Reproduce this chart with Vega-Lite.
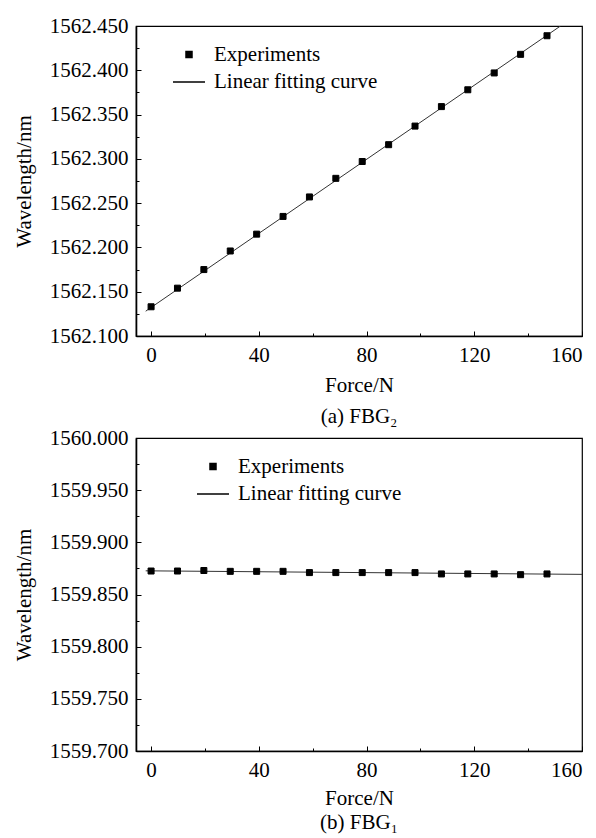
{
  "$schema": "https://vega.github.io/schema/vega-lite/v6.json",
  "padding": {"left": 12, "top": 14, "right": 0, "bottom": 0},
  "background": "white",
  "spacing": 102,
  "bounds": "flush",
  "config": {
    "font": "Liberation Serif",
    "view": {"stroke": "black", "strokeWidth": 1.2},
    "axis": {
      "grid": false,
      "labelFont": "Liberation Serif",
      "labelFontSize": 21,
      "labelColor": "black",
      "titleFont": "Liberation Serif",
      "titleFontSize": 21,
      "titleFontWeight": "normal",
      "titleColor": "black",
      "domainColor": "black",
      "domainWidth": 1.6,
      "tickColor": "black",
      "tickWidth": 1,
      "tickSize": -5,
      "labelPadding": 13
    },
    "legend": {
      "labelFont": "Liberation Serif",
      "labelFontSize": 21,
      "labelColor": "black",
      "labelOffset": 8,
      "labelLimit": 0,
      "rowPadding": -2,
      "title": null
    }
  },
  "resolve": {
    "scale": {"shape": "independent", "size": "independent"},
    "legend": {"shape": "independent", "size": "independent"}
  },
  "datasets": {
    "fbg2_pts": [
      {"force": 0, "wavelength": 1562.133, "series": "Experiments"},
      {"force": 9.8, "wavelength": 1562.154, "series": "Experiments"},
      {"force": 19.6, "wavelength": 1562.175, "series": "Experiments"},
      {"force": 29.4, "wavelength": 1562.196, "series": "Experiments"},
      {"force": 39.2, "wavelength": 1562.215, "series": "Experiments"},
      {"force": 49, "wavelength": 1562.235, "series": "Experiments"},
      {"force": 58.8, "wavelength": 1562.257, "series": "Experiments"},
      {"force": 68.6, "wavelength": 1562.278, "series": "Experiments"},
      {"force": 78.4, "wavelength": 1562.297, "series": "Experiments"},
      {"force": 88.2, "wavelength": 1562.316, "series": "Experiments"},
      {"force": 98, "wavelength": 1562.337, "series": "Experiments"},
      {"force": 107.8, "wavelength": 1562.359, "series": "Experiments"},
      {"force": 117.6, "wavelength": 1562.378, "series": "Experiments"},
      {"force": 127.4, "wavelength": 1562.397, "series": "Experiments"},
      {"force": 137.2, "wavelength": 1562.418, "series": "Experiments"},
      {"force": 147, "wavelength": 1562.439, "series": "Experiments"}
    ],
    "fbg2_fit": [
      {"force": -2, "wavelength": 1562.128},
      {"force": 152, "wavelength": 1562.45}
    ],
    "fbg1_pts": [
      {"force": 0, "wavelength": 1559.8725, "series": "Experiments"},
      {"force": 9.8, "wavelength": 1559.8725, "series": "Experiments"},
      {"force": 19.6, "wavelength": 1559.873, "series": "Experiments"},
      {"force": 29.4, "wavelength": 1559.8722, "series": "Experiments"},
      {"force": 39.2, "wavelength": 1559.8722, "series": "Experiments"},
      {"force": 49, "wavelength": 1559.8722, "series": "Experiments"},
      {"force": 58.8, "wavelength": 1559.871, "series": "Experiments"},
      {"force": 68.6, "wavelength": 1559.871, "series": "Experiments"},
      {"force": 78.4, "wavelength": 1559.871, "series": "Experiments"},
      {"force": 88.2, "wavelength": 1559.871, "series": "Experiments"},
      {"force": 98, "wavelength": 1559.871, "series": "Experiments"},
      {"force": 107.8, "wavelength": 1559.8697, "series": "Experiments"},
      {"force": 117.6, "wavelength": 1559.8697, "series": "Experiments"},
      {"force": 127.4, "wavelength": 1559.8697, "series": "Experiments"},
      {"force": 137.2, "wavelength": 1559.869, "series": "Experiments"},
      {"force": 147, "wavelength": 1559.8697, "series": "Experiments"}
    ],
    "fbg1_fit": [
      {"force": -2, "wavelength": 1559.8727},
      {"force": 160, "wavelength": 1559.8693}
    ]
  },
  "vconcat": [
    {
      "width": 446,
      "height": 310,
      "title": {"text": "(a) FBG₂", "orient": "bottom", "frame": "group", "anchor": "middle", "font": "Liberation Serif", "fontSize": 21, "fontWeight": "normal", "color": "black", "offset": 11},
      "resolve": {"axis": {"x": "independent", "y": "independent"}},
      "layer": [
        {
          "data": {"name": "fbg2_fit"},
          "mark": {"type": "line", "color": "#333", "strokeWidth": 1, "clip": true},
          "encoding": {
            "x": {"field": "force", "type": "quantitative", "scale": {"domain": [-5.6, 160], "nice": false, "zero": false},
                  "axis": {"orient": "bottom", "values": [20, 60, 100, 140], "labels": false, "domain": false, "title": null, "tickSize": -3}},
            "y": {"field": "wavelength", "type": "quantitative", "scale": {"domain": [1562.1, 1562.45], "nice": false, "zero": false},
                  "axis": {"orient": "left", "values": [1562.125, 1562.175, 1562.225, 1562.275, 1562.325, 1562.375, 1562.425], "labels": false, "domain": false, "title": null, "tickSize": -3}}
          }
        },
        {
          "data": {"name": "fbg2_pts"},
          "mark": {"type": "point", "filled": true, "opacity": 1, "color": "black", "stroke": "black", "strokeWidth": 1},
          "encoding": {
            "x": {"field": "force", "type": "quantitative",
                  "axis": {"orient": "bottom", "values": [0, 40, 80, 120, 160], "title": "Force/N", "titlePadding": 9}},
            "y": {"field": "wavelength", "type": "quantitative",
                  "axis": {"orient": "left", "values": [1562.1, 1562.15, 1562.2, 1562.25, 1562.3, 1562.35, 1562.4, 1562.45], "format": ".3f", "title": "Wavelength/nm", "titlePadding": 15}},
            "shape": {"field": "series", "type": "nominal",
                      "scale": {"domain": ["Experiments", "Linear fitting curve"], "range": ["square", "stroke"]},
                      "legend": {"orient": "none", "legendX": 36, "legendY": 18, "title": null}},
            "size": {"field": "series", "type": "nominal",
                     "scale": {"domain": ["Experiments", "Linear fitting curve"], "range": [36, 1024]},
                     "legend": {"orient": "none", "legendX": 36, "legendY": 18, "title": null}}
          }
        }
      ]
    },
    {
      "width": 446,
      "height": 313,
      "title": {"text": "(b)  FBG₁", "orient": "bottom", "frame": "group", "anchor": "middle", "font": "Liberation Serif", "fontSize": 21, "fontWeight": "normal", "color": "black", "offset": 4},
      "resolve": {"axis": {"x": "independent", "y": "independent"}},
      "layer": [
        {
          "data": {"name": "fbg1_fit"},
          "mark": {"type": "line", "color": "#333", "strokeWidth": 1, "clip": true},
          "encoding": {
            "x": {"field": "force", "type": "quantitative", "scale": {"domain": [-5.6, 160], "nice": false, "zero": false},
                  "axis": {"orient": "bottom", "values": [20, 60, 100, 140], "labels": false, "domain": false, "title": null, "tickSize": -3}},
            "y": {"field": "wavelength", "type": "quantitative", "scale": {"domain": [1559.7, 1560.0], "nice": false, "zero": false},
                  "axis": {"orient": "left", "values": [1559.725, 1559.775, 1559.825, 1559.875, 1559.925, 1559.975], "labels": false, "domain": false, "title": null, "tickSize": -3}}
          }
        },
        {
          "data": {"name": "fbg1_pts"},
          "mark": {"type": "point", "filled": true, "opacity": 1, "color": "black", "stroke": "black", "strokeWidth": 1},
          "encoding": {
            "x": {"field": "force", "type": "quantitative",
                  "axis": {"orient": "bottom", "values": [0, 40, 80, 120, 160], "title": "Force/N", "titlePadding": 7}},
            "y": {"field": "wavelength", "type": "quantitative",
                  "axis": {"orient": "left", "values": [1559.7, 1559.75, 1559.8, 1559.85, 1559.9, 1559.95, 1560.0], "format": ".3f", "title": "Wavelength/nm", "titlePadding": 15}},
            "shape": {"field": "series", "type": "nominal",
                      "scale": {"domain": ["Experiments", "Linear fitting curve"], "range": ["square", "stroke"]},
                      "legend": {"orient": "none", "legendX": 60, "legendY": 18, "title": null}},
            "size": {"field": "series", "type": "nominal",
                     "scale": {"domain": ["Experiments", "Linear fitting curve"], "range": [36, 1024]},
                     "legend": {"orient": "none", "legendX": 60, "legendY": 18, "title": null}}
          }
        }
      ]
    }
  ]
}
